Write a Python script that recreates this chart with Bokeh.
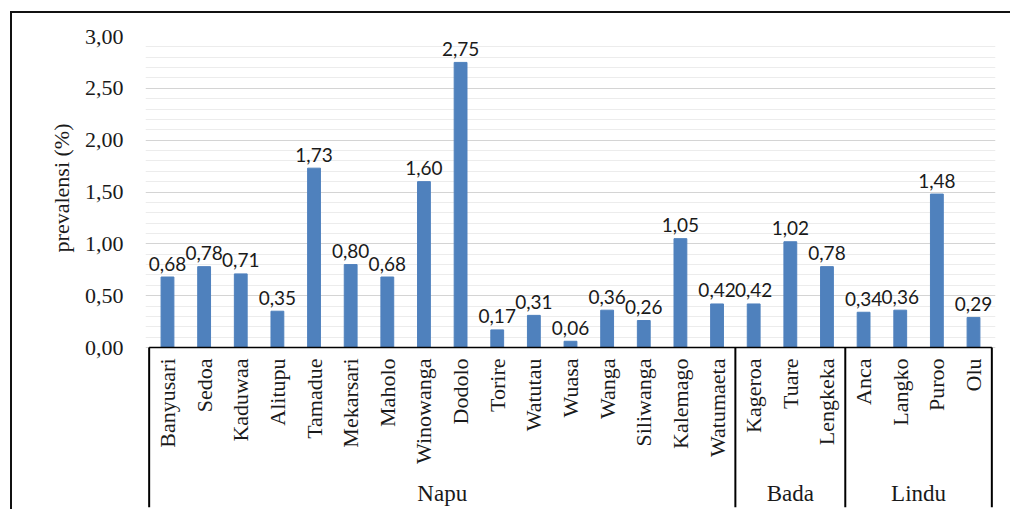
import numpy as np
from bokeh.plotting import figure
from bokeh.models import (FactorRange, Range1d, FixedTicker, CustomJSTickFormatter,
                          Title, ColumnDataSource)
from bokeh.core.properties import value
from bokeh.embed import file_html
from bokeh.resources import INLINE

# --- data -------------------------------------------------------------------
regions = ["Napu", "Bada", "Lindu"]
villages_napu = ["Banyusari", "Sedoa", "Kaduwaa", "Alitupu", "Tamadue", "Mekarsari",
                 "Maholo", "Winowanga", "Dodolo", "Torire", "Watutau", "Wuasa",
                 "Wanga", "Siliwanga", "Kalemago", "Watumaeta"]
villages_bada = ["Kageroa", "Tuare", "Lengkeka"]
villages_lindu = ["Anca", "Langko", "Puroo", "Olu"]
prevalence = [0.68, 0.78, 0.71, 0.35, 1.73, 0.80, 0.68, 1.60, 2.75, 0.17, 0.31, 0.06,
              0.36, 0.26, 1.05, 0.42,
              0.42, 1.02, 0.78,
              0.34, 0.36, 1.48, 0.29]
y_ticks = [0.0, 0.5, 1.0, 1.5, 2.0, 2.5, 3.0]
y_minor_ticks = [0.1, 0.2, 0.3, 0.4, 0.6, 0.7, 0.8, 0.9, 1.1, 1.2, 1.3, 1.4,
                 1.6, 1.7, 1.8, 1.9, 2.1, 2.2, 2.3, 2.4, 2.6, 2.7, 2.8, 2.9]
y_label = "prevalensi (%)"

villages = villages_napu + villages_bada + villages_lindu
group_sizes = [len(villages_napu), len(villages_bada), len(villages_lindu)]
bounds = np.concatenate([[0], np.cumsum(group_sizes)]).astype(float)
group_centers = (bounds[:-1] + bounds[1:]) / 2
value_labels = [f"{v:.2f}".replace(".", ",") for v in prevalence]

# --- layout (page pixels) ---------------------------------------------------
OFF_X, OFF_Y = 12, 13            # canvas origin inside the chart border
W, H = 1012 - OFF_X, 511 - OFF_Y
FRAME_LEFT, FRAME_RIGHT = 145, 995
FRAME_TOP, AXIS_Y, FRAME_BOTTOM = 36, 347, 507
X_PAD = 0.1                      # category units of slack at both frame edges
Y_MAX = 3.0
Y_MIN = -Y_MAX * (FRAME_BOTTOM - AXIS_Y) / (AXIS_Y - FRAME_TOP)
SERIF = "Liberation Serif"
TEXT = "#1a1a1a"

src = ColumnDataSource(dict(village=villages, value=prevalence, label=value_labels,
                            base=[0.0] * len(villages)))
groups = ColumnDataSource(dict(x=group_centers, y=[0.0] * len(regions), name=regions))
seps = ColumnDataSource(dict(x=bounds, y0=[0.0] * len(bounds), y1=[Y_MIN] * len(bounds)))

x_range = FactorRange(*villages, range_padding=X_PAD, range_padding_units="absolute")
p = figure(width=W, height=H, x_range=x_range, y_range=Range1d(Y_MIN, Y_MAX),
           output_backend="svg", toolbar_location=None,
           min_border_left=FRAME_LEFT - OFF_X, min_border_right=W + OFF_X - FRAME_RIGHT,
           min_border_top=FRAME_TOP - OFF_Y, min_border_bottom=H + OFF_Y - FRAME_BOTTOM,
           x_axis_location=None,
           background_fill_color="white", border_fill_color="white")
p.outline_line_color = None
p.styles = {"margin-left": "10px", "margin-top": "11px",
            "border-left": "2px solid #111", "border-top": "2px solid #111"}

# bars and value labels
p.vbar(x="village", top="value", width=0.35, source=src,
       fill_color="#4f81bd", line_color="#4f81bd")
p.text(x="village", y="value", text="label", source=src,
       text_align="center", text_baseline="alphabetic", y_offset=-13.5,
       text_font=value("Lato"), text_font_size="19px", text_color=TEXT)

# y axis and grid
p.yaxis.ticker = FixedTicker(ticks=y_ticks, minor_ticks=y_minor_ticks)
p.yaxis.formatter = CustomJSTickFormatter(code="return tick.toFixed(2).replace('.', ',')")
p.yaxis.axis_line_color = None
p.yaxis.major_tick_line_color = None
p.yaxis.minor_tick_line_color = None
p.yaxis.major_tick_out = 0
p.yaxis.major_tick_in = 0
p.yaxis.major_label_standoff = 18
p.yaxis.major_label_text_font = SERIF
p.yaxis.major_label_text_font_size = "22px"
p.yaxis.major_label_text_color = TEXT

p.add_layout(Title(text=y_label, align="right", offset=123 - FRAME_TOP,
                   vertical_align="bottom", standoff=16,
                   text_font=SERIF, text_font_size="22px", text_font_style="normal",
                   text_color=TEXT), "left")

p.xgrid.grid_line_color = None
p.ygrid.grid_line_color = "#d4d4d4"
p.ygrid.grid_line_width = 1.2
p.ygrid.minor_grid_line_color = "#ececec"

# category box: axis line, separators, village and region names
p.segment(x0=bounds[0], y0=0, x1=bounds[-1], y1=0, line_color="black", line_width=1.5)
p.segment(x0="x", y0="y0", x1="x", y1="y1", source=seps,
          line_color="black", line_width=2)
p.text(x="village", y="base", text="village", source=src,
       angle=np.pi / 2, text_align="right", text_baseline="middle", y_offset=11,
       text_font=value(SERIF), text_font_size="22px", text_color=TEXT)
p.text(x="x", y="y", text="name", source=groups,
       text_align="center", text_baseline="middle", y_offset=146,
       text_font=value(SERIF), text_font_size="23px", text_color=TEXT)

open("out.html", "w").write(file_html(p, INLINE))
